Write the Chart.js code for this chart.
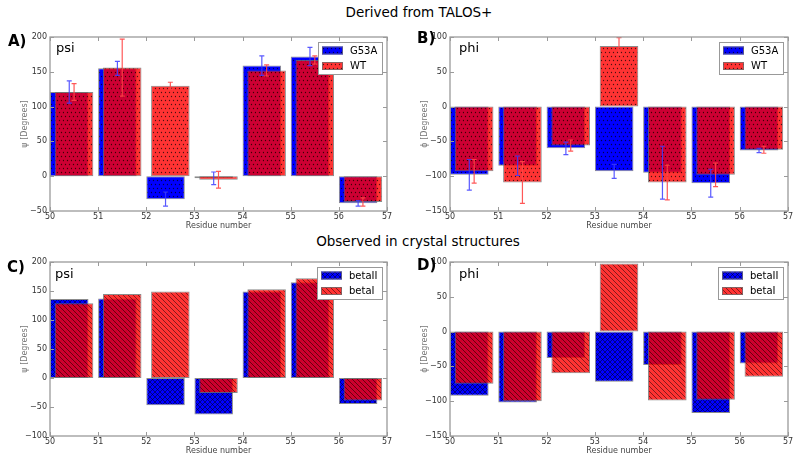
<!DOCTYPE html>
<html><head><meta charset="utf-8">
<script src="https://cdn.jsdelivr.net/npm/chart.js@4.4.0/dist/chart.umd.min.js"></script>
<style>
html,body{margin:0;padding:0;background:#fff;}
body{width:800px;height:460px;position:relative;overflow:hidden;font-family:"DejaVu Sans",sans-serif;}
.panel{position:absolute;width:400px;height:205px;}
.txt{position:absolute;white-space:nowrap;color:#000;}
.title{font-size:13.5px;line-height:16px;transform:translateX(-50%);}
.plab{font-size:15px;line-height:18px;font-weight:bold;}
.ang{font-size:13px;line-height:16px;}
</style></head><body>
<div class="panel" style="left:0;top:27px;"><canvas id="cA" width="400" height="205"></canvas></div>
<div class="panel" style="left:400px;top:27px;"><canvas id="cB" width="400" height="205"></canvas></div>
<div class="panel" style="left:0;top:252px;"><canvas id="cC" width="400" height="205"></canvas></div>
<div class="panel" style="left:400px;top:252px;"><canvas id="cD" width="400" height="205"></canvas></div>

<div class="txt title" style="left:419px;top:4px;">Derived from TALOS+</div>
<div class="txt title" style="left:418px;top:232.5px;">Observed in crystal structures</div>
<div class="txt plab" style="left:8px;top:32px;">A)</div>
<div class="txt plab" style="left:417px;top:28.5px;">B)</div>
<div class="txt plab" style="left:7px;top:258px;">C)</div>
<div class="txt plab" style="left:417px;top:256px;">D)</div>
<div class="txt ang" style="left:56px;top:40px;">psi</div>
<div class="txt ang" style="left:459px;top:40px;">phi</div>
<div class="txt ang" style="left:55px;top:265.5px;">psi</div>
<div class="txt ang" style="left:459px;top:265.5px;">phi</div>

<script>
// ---------------- data ----------------
const residues = [50, 51, 52, 53, 54, 55, 56];

// A) psi, derived from TALOS+
const psiTalosG53A    = [121, 155, -33, -3, 159, 172, -39];
const psiTalosG53AErr = [16, 10, 10, 9, 14, 13, 4];
const psiTalosWT      = [121, 156, 130, -5, 152, 167, -37];
const psiTalosWTErr   = [12, 41, 5, 12, 8, 6, 6];

// B) phi, derived from TALOS+
const phiTalosG53A    = [-98, -85, -60, -93, -95, -110, -63];
const phiTalosG53AErr = [22, 14, 9, 10, 38, 20, 3];
const phiTalosWT      = [-93, -109, -56, 87, -109, -98, -62];
const phiTalosWTErr   = [17, 30, 8, 12, 25, 17, 5];

// C) psi, crystal structures
const psiCrystBetaII = [136, 137, -47, -63, 149, 165, -45];
const psiCrystBetaI  = [129, 145, 149, -26, 153, 172, -39];

// D) phi, crystal structures
const phiCrystBetaII = [-92, -102, -38, -72, -48, -117, -46];
const phiCrystBetaI  = [-75, -100, -60, 98, -99, -98, -65];

const seriesTalos = ['G53A', 'WT'];
const seriesCryst = ['betaII', 'betaI'];
const xAxisTitle = 'Residue number';
const psiTitle = '\u03C8 [Degrees]';
const phiTitle = '\u03D5 [Degrees]';

// ---------------- styles ----------------
const FONT = '"DejaVu Sans", sans-serif';
function pattern(base, kind) {
  const s = kind === 'dots' ? 8 : 5;
  const c = document.createElement('canvas');
  c.width = s; c.height = s;
  const g = c.getContext('2d');
  g.fillStyle = base; g.fillRect(0, 0, s, s);
  g.fillStyle = 'rgba(0,0,0,0.7)';
  g.strokeStyle = 'rgba(0,0,0,0.6)';
  g.lineWidth = 0.8;
  if (kind === 'dots') {
    [[1.5,1.5],[5.5,1.5],[3.5,5.5],[7.5,5.5]].forEach(([x,y]) => {
      g.beginPath(); g.arc(x, y, 0.65, 0, Math.PI*2); g.fill();
    });
  } else {
    g.beginPath();
    for (let k = -1; k <= 1; k++) {
      if (kind === 'back' || kind === 'cross') { g.moveTo(k*s, 0); g.lineTo(k*s + s, s); }
      if (kind === 'cross') { g.moveTo(k*s, s); g.lineTo(k*s + s, 0); }
    }
    g.stroke();
  }
  return g.createPattern(c, 'repeat');
}
const BLUE = '#0000ff';
const RED = 'rgba(255,0,0,0.8)';

function fmt(v) { return v < 0 ? '\u2212' + Math.abs(v) : String(v); }

// ---------------- plugins ----------------
const errPlugin = {
  id: 'errbars',
  afterDatasetsDraw(chart) {
    const ctx = chart.ctx, ys = chart.scales.y;
    chart.data.datasets.forEach((d, di) => {
      if (!d.errors) return;
      const meta = chart.getDatasetMeta(di);
      ctx.save();
      ctx.strokeStyle = d.errorColor; ctx.lineWidth = 1.2;
      meta.data.forEach((bar, i) => {
        const v = d.data[i].y, e = d.errors[i];
        const x = bar.x, y1 = ys.getPixelForValue(v + e), y2 = ys.getPixelForValue(v - e);
        ctx.beginPath();
        ctx.moveTo(x, y1); ctx.lineTo(x, y2);
        ctx.moveTo(x - 2.5, y1); ctx.lineTo(x + 2.5, y1);
        ctx.moveTo(x - 2.5, y2); ctx.lineTo(x + 2.5, y2);
        ctx.stroke();
      });
      ctx.restore();
    });
  }
};

const framePlugin = {
  id: 'frame',
  afterDraw(chart) {
    const ctx = chart.ctx, a = chart.chartArea, xs = chart.scales.x, ys = chart.scales.y;
    ctx.save();
    ctx.strokeStyle = '#9a9a9a'; ctx.lineWidth = 1;
    ctx.beginPath();
    xs.ticks.forEach((t, i) => {
      const px = Math.round(xs.getPixelForTick(i)) + 0.5;
      ctx.moveTo(px, a.bottom); ctx.lineTo(px, a.bottom - 4);
      ctx.moveTo(px, a.top); ctx.lineTo(px, a.top + 4);
    });
    ys.ticks.forEach((t, i) => {
      const py = Math.round(ys.getPixelForTick(i)) + 0.5;
      ctx.moveTo(a.left, py); ctx.lineTo(a.left + 4, py);
      ctx.moveTo(a.right, py); ctx.lineTo(a.right - 4, py);
    });
    ctx.stroke();
    ctx.lineWidth = 1.3;
    ctx.strokeRect(a.left, a.top, a.right - a.left, a.bottom - a.top);
    // legend box inside the axes (top right)
    const ds = chart.data.datasets;
    ctx.font = '10px ' + FONT;
    const tw = Math.max(...ds.map(d => ctx.measureText(d.label).width));
    const bw = Math.round(4 + 21 + 7 + tw + 5), bh = 32;
    const bx = Math.round(a.right - 5 - bw), by = Math.round(a.top + 5);
    ctx.fillStyle = '#fff'; ctx.fillRect(bx, by, bw, bh);
    ctx.strokeStyle = '#999'; ctx.lineWidth = 1;
    ctx.strokeRect(bx + 0.5, by + 0.5, bw, bh);
    ds.forEach((d, i) => {
      const cy = by + 8.5 + i * 15.5;
      ctx.fillStyle = d.backgroundColor;
      ctx.fillRect(bx + 4, cy - 4, 21, 8);
      ctx.strokeStyle = 'rgba(110,110,110,0.8)';
      ctx.strokeRect(bx + 4.5, cy - 3.5, 20, 7);
      ctx.fillStyle = '#000'; ctx.textBaseline = 'middle'; ctx.textAlign = 'left';
      ctx.fillText(d.label, bx + 32, cy + 0.5);
    });
    ctx.restore();
  }
};

// ---------------- charts ----------------
function makeChart(id, cfg) {
  const edge = 'rgba(110,110,110,0.8)';
  new Chart(document.getElementById(id), {
    type: 'bar',
    data: {
      datasets: [
        { label: cfg.labels[0], data: residues.map((r, i) => ({ x: r + 0.4, y: cfg.a[i] })),
          xAxisID: 'x', backgroundColor: cfg.patA, borderColor: edge, borderWidth: 1, borderSkipped: false,
          barPercentage: 0.8, categoryPercentage: 1, grouped: false, order: 2,
          errors: cfg.aErr, errorColor: 'rgba(60,60,255,0.85)' },
        { label: cfg.labels[1], data: residues.map((r, i) => ({ x: r + 0.5, y: cfg.b[i] })),
          xAxisID: 'x2', backgroundColor: cfg.patB, borderColor: edge, borderWidth: 1, borderSkipped: false,
          barPercentage: 0.8, categoryPercentage: 1, grouped: false, order: 1,
          errors: cfg.bErr, errorColor: 'rgba(255,70,70,0.9)' }
      ]
    },
    options: {
      responsive: false, animation: false,
      layout: { padding: { top: 10, right: cfg.rightPad, left: 0, bottom: 0 } },
      plugins: { legend: { display: false }, tooltip: { enabled: false } },
      scales: {
        x: { type: 'linear', min: 50, max: 57, offset: false,
             ticks: { stepSize: 1, font: { family: FONT, size: 8 }, color: '#333', padding: 1, maxRotation: 0, autoSkip: false },
             grid: { display: false, drawTicks: false }, border: { display: false },
             title: { display: true, text: xAxisTitle, font: { family: FONT, size: 8 }, color: '#444', padding: { top: 0, bottom: 1 } },
             afterFit(s) { s.height = 21; } },
        x2: { type: 'linear', min: 50, max: 57, offset: false, display: false, ticks: { stepSize: 1 },
              grid: { display: false, drawTicks: false } },
        y: { type: 'linear', min: cfg.ymin, max: cfg.ymax,
             ticks: { stepSize: 50, callback: fmt, font: { family: FONT, size: 8 }, color: '#333', padding: 3 },
             grid: { display: false, drawTicks: false }, border: { display: false },
             title: { display: true, text: cfg.ytitle, font: { family: FONT, size: 8 }, color: '#777', padding: { top: 20, bottom: 0 } },
             afterFit(s) { s.width = 50; } }
      }
    },
    plugins: [errPlugin, framePlugin]
  });
}

makeChart('cA', { labels: seriesTalos, a: psiTalosG53A, aErr: psiTalosG53AErr, b: psiTalosWT, bErr: psiTalosWTErr,
  patA: pattern(BLUE, 'dots'), patB: pattern(RED, 'dots'), ymin: -50, ymax: 200, ytitle: psiTitle, rightPad: 13 });
makeChart('cB', { labels: seriesTalos, a: phiTalosG53A, aErr: phiTalosG53AErr, b: phiTalosWT, bErr: phiTalosWTErr,
  patA: pattern(BLUE, 'dots'), patB: pattern(RED, 'dots'), ymin: -150, ymax: 100, ytitle: phiTitle, rightPad: 12 });
makeChart('cC', { labels: seriesCryst, a: psiCrystBetaII, b: psiCrystBetaI,
  patA: pattern(BLUE, 'cross'), patB: pattern(RED, 'back'), ymin: -100, ymax: 200, ytitle: psiTitle, rightPad: 13 });
makeChart('cD', { labels: seriesCryst, a: phiCrystBetaII, b: phiCrystBetaI,
  patA: pattern(BLUE, 'cross'), patB: pattern(RED, 'back'), ymin: -150, ymax: 100, ytitle: phiTitle, rightPad: 12 });
</script>
</body></html>
